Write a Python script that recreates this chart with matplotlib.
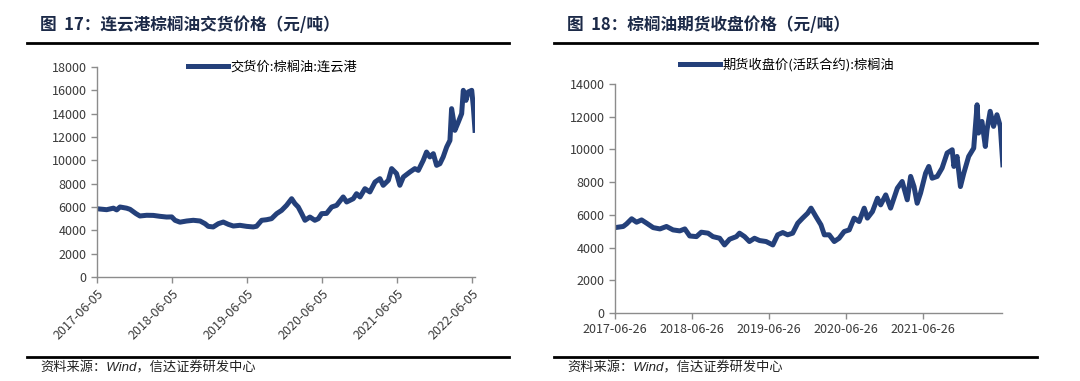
import numpy as np
import pandas as pd
import matplotlib
matplotlib.use("Agg")
import matplotlib.pyplot as plt
from matplotlib.lines import Line2D

plt.rcParams['font.family'] = ['Noto Sans CJK SC', 'DejaVu Sans']

# 连云港棕榈油交货价 (元/吨)
dates1 = ["2017-06-05", "2017-07-22", "2017-08-24", "2017-09-09", "2017-09-25", "2017-10-27",
          "2017-11-13", "2017-12-12", "2017-12-31", "2018-02-02", "2018-03-06", "2018-04-08",
          "2018-05-10", "2018-06-04", "2018-06-20", "2018-07-14", "2018-08-16", "2018-09-17",
          "2018-10-20", "2018-11-13", "2018-11-29", "2018-12-23", "2019-01-17", "2019-02-10",
          "2019-03-07", "2019-03-31", "2019-05-02", "2019-06-04", "2019-07-06", "2019-07-22",
          "2019-08-16", "2019-09-09", "2019-10-03", "2019-10-28", "2019-11-21", "2019-12-15",
          "2020-01-09", "2020-01-25", "2020-02-10", "2020-02-27", "2020-03-14", "2020-04-07",
          "2020-05-01", "2020-05-18", "2020-06-03", "2020-06-27", "2020-07-22", "2020-08-15",
          "2020-09-16", "2020-10-03", "2020-11-04", "2020-11-20", "2020-12-07", "2020-12-31",
          "2021-01-24", "2021-02-18", "2021-03-14", "2021-03-30", "2021-04-24", "2021-05-10",
          "2021-06-03", "2021-06-19", "2021-07-06", "2021-08-07", "2021-08-31", "2021-09-17",
          "2021-10-11", "2021-10-27", "2021-11-12", "2021-11-29", "2021-12-15", "2021-12-31",
          "2022-01-16", "2022-02-02", "2022-02-18", "2022-02-26", "2022-03-06", "2022-03-14",
          "2022-03-31", "2022-04-16", "2022-04-24", "2022-05-07", "2022-05-18", "2022-06-04",
          "2022-06-12", "2022-06-20"]
price1 = [5850, 5770, 5900, 5750, 6000, 5900,
          5800, 5430, 5230, 5290, 5280, 5200,
          5140, 5150, 4860, 4700, 4800, 4860,
          4800, 4570, 4340, 4290, 4570, 4710,
          4510, 4370, 4430, 4340, 4290, 4350,
          4860, 4910, 5000, 5430, 5710, 6140,
          6710, 6290, 6000, 5430, 4860, 5140,
          4860, 5000, 5430, 5450, 6000, 6140,
          6860, 6430, 6710, 7140, 6860, 7570,
          7290, 8140, 8430, 7860, 8290, 9290,
          8860, 7860, 8570, 9000, 9290, 9140,
          10000, 10710, 10290, 10570, 9570, 9710,
          10290, 11140, 11710, 14430, 13570, 12570,
          13290, 14000, 16000, 15140, 15860, 16000,
          14570, 12570]

# 棕榈油期货收盘价(活跃合约) (元/吨)
dates2 = ["2017-06-26", "2017-08-04", "2017-08-20", "2017-09-13", "2017-10-06", "2017-10-30",
          "2017-11-23", "2017-12-24", "2018-01-25", "2018-02-25", "2018-03-28", "2018-04-29",
          "2018-05-23", "2018-06-15", "2018-07-17", "2018-08-09", "2018-09-10", "2018-10-03",
          "2018-11-04", "2018-11-27", "2018-12-21", "2019-01-22", "2019-02-06", "2019-03-02",
          "2019-03-25", "2019-04-18", "2019-05-12", "2019-06-12", "2019-07-14", "2019-08-06",
          "2019-08-30", "2019-09-22", "2019-10-16", "2019-11-09", "2019-12-02", "2019-12-26",
          "2020-01-11", "2020-02-03", "2020-02-27", "2020-03-14", "2020-04-06", "2020-04-30",
          "2020-05-23", "2020-06-16", "2020-07-10", "2020-08-02", "2020-08-26", "2020-09-19",
          "2020-10-04", "2020-10-28", "2020-11-21", "2020-12-06", "2020-12-30", "2021-01-22",
          "2021-02-23", "2021-03-18", "2021-04-11", "2021-04-27", "2021-05-13", "2021-05-28",
          "2021-06-13", "2021-07-07", "2021-07-22", "2021-08-07", "2021-08-31", "2021-09-23",
          "2021-10-17", "2021-11-10", "2021-11-18", "2021-12-03", "2021-12-19", "2022-01-04",
          "2022-01-27", "2022-02-20", "2022-03-08", "2022-03-15", "2022-03-31", "2022-04-16",
          "2022-04-24", "2022-05-09", "2022-05-25", "2022-06-10", "2022-06-26", "2022-07-08"]
price2 = [5220, 5290, 5450, 5760, 5550, 5690,
          5490, 5220, 5140, 5290, 5080, 5020,
          5140, 4710, 4670, 4940, 4880, 4670,
          4570, 4160, 4510, 4670, 4880, 4670,
          4370, 4570, 4430, 4370, 4160, 4780,
          4920, 4780, 4880, 5490, 5800, 6100,
          6410, 5900, 5390, 4780, 4780, 4370,
          4570, 4980, 5080, 5800, 5590, 6410,
          5800, 6200, 7020, 6610, 7220, 6410,
          7630, 8040, 6920, 8350, 7730, 6710,
          7330, 8550, 8960, 8240, 8350, 8860,
          9780, 9980, 8960, 9570, 7730, 8550,
          9570, 10080, 12730, 11000, 11710, 10180,
          11200, 12330, 11410, 12120, 11410, 9060]

ticks1 = ["2017-06-05", "2018-06-05", "2019-06-05", "2020-06-05", "2021-06-05", "2022-06-05"]
ticks2 = ["2017-06-26", "2018-06-26", "2019-06-26", "2020-06-26", "2021-06-26"]

title1 = "图  17：连云港棕榈油交货价格（元/吨）"
title2 = "图  18：棕榈油期货收盘价格（元/吨）"
label1 = "交货价:棕榈油:连云港"
label2 = "期货收盘价(活跃合约):棕榈油"
source = "资料来源：Wind，信达证券研发中心"

LINE = "#24407A"
TXT = "#3a3a3a"
W, H = 1080, 381

fig = plt.figure(figsize=(W / 100, H / 100), dpi=100)


def fx(px):
    return px / W


def fy(py):
    return 1 - py / H


def style_axes(ax):
    for s in ["top", "right"]:
        ax.spines[s].set_visible(False)
    for s in ["left", "bottom"]:
        ax.spines[s].set_color("#8c8c8c")
        ax.spines[s].set_linewidth(1.0)
    ax.tick_params(axis="both", colors="#8c8c8c", length=4, width=1.0,
                   labelsize=9, labelcolor=TXT)


# left chart
ax1 = fig.add_axes([fx(97), fy(277), fx(475 - 97), (277 - 67) / H])
d1 = pd.to_datetime(dates1)
ax1.plot(d1, price1, color=LINE, lw=3.6, solid_joinstyle="round", label=label1)
ax1.set_ylim(0, 18000)
ax1.set_yticks(np.arange(0, 18001, 2000))
ax1.set_xlim(pd.Timestamp("2017-06-05"), pd.Timestamp("2022-06-20"))
ax1.set_xticks(pd.to_datetime(ticks1))
ax1.set_xticklabels(ticks1, rotation=45, ha="right", rotation_mode="anchor")
style_axes(ax1)
ax1.legend(loc="center left", bbox_to_anchor=(fx(188), fy(67)),
           bbox_transform=fig.transFigure, frameon=False, fontsize=9.5,
           handlelength=3.0, handletextpad=0.2, borderpad=0, borderaxespad=0)

# right chart
ax2 = fig.add_axes([fx(615), fy(313), fx(1002 - 615), (313 - 84) / H])
d2 = pd.to_datetime(dates2)
ax2.plot(d2, price2, color=LINE, lw=3.6, solid_joinstyle="round", label=label2)
ax2.set_ylim(0, 14000)
ax2.set_yticks(np.arange(0, 14001, 2000))
ax2.set_xlim(pd.Timestamp("2017-06-26"), pd.Timestamp("2022-07-04"))
ax2.set_xticks(pd.to_datetime(ticks2))
ax2.set_xticklabels(ticks2)
style_axes(ax2)
ax2.legend(loc="center left", bbox_to_anchor=(fx(680), fy(65)),
           bbox_transform=fig.transFigure, frameon=False, fontsize=9.5,
           handlelength=3.0, handletextpad=0.2, borderpad=0, borderaxespad=0)

# titles, rules and source notes
for x0, x1, tx, title in [(27, 509, 40, title1), (554, 1037, 567, title2)]:
    fig.text(fx(tx), fy(25), title, fontsize=12, fontweight="bold",
             color="#1c2a48", va="center", ha="left")
    fig.add_artist(Line2D([fx(x0), fx(x1)], [fy(43), fy(43)], color="black", lw=2))
    fig.add_artist(Line2D([fx(x0), fx(x1)], [fy(357), fy(357)], color="black", lw=2))
    fig.text(fx(tx), fy(368), source, fontsize=9.5, style="italic",
             family=["Liberation Sans", "Noto Sans CJK SC"],
             color="#222222", va="center", ha="left")

fig.savefig("out.png", dpi=100)
